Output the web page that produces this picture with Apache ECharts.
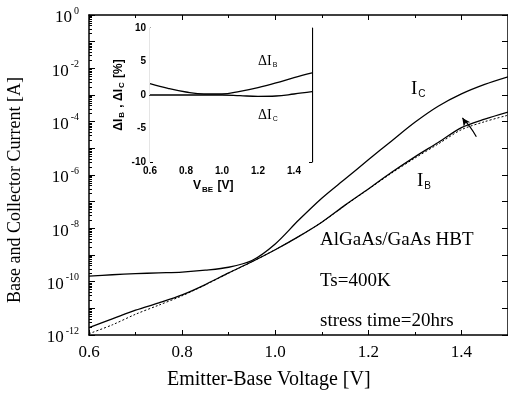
<!DOCTYPE html>
<html>
<head>
<meta charset="utf-8">
<script src="https://cdn.jsdelivr.net/npm/echarts@6/dist/echarts.min.js"></script>
<style>
  html, body { margin: 0; padding: 0; background: #fff; }
  #chart { width: 508px; height: 398px; }
</style>
</head>
<body>
<div id="chart"></div>
<script>
// emitter-base voltage [V]
var vbe = [0.60, 0.65, 0.70, 0.75, 0.80, 0.85, 0.90, 0.95, 1.00, 1.05,
           1.10, 1.15, 1.20, 1.25, 1.30, 1.35, 1.40, 1.45, 1.50];
// collector current [A]
var ic = [1.62e-10, 1.82e-10, 2.0e-10, 2.14e-10, 2.29e-10, 2.69e-10, 3.47e-10, 6.2e-10, 2.6e-9, 2.0e-8,
          1.35e-7, 7.1e-7, 3.7e-6, 1.9e-5, 9.5e-5, 3.8e-4, 1.1e-3, 2.5e-3, 4.8e-3];
// base current before stress [A]
var ib = [1.9e-12, 4.0e-12, 8.5e-12, 1.6e-11, 3.2e-11, 7.8e-11, 2.14e-10, 5.6e-10, 1.58e-9, 4.9e-9,
          1.7e-8, 7.4e-8, 3.0e-7, 1.26e-6, 4.8e-6, 1.66e-5, 6.0e-5, 1.25e-4, 2.3e-4];
// base current after stress (dotted) [A]
var ibStress = [1.12e-12, 2.4e-12, 6.0e-12, 1.32e-11, 2.95e-11, 7.6e-11, 2.1e-10, 5.6e-10, 1.58e-9, 4.9e-9,
                1.7e-8, 7.2e-8, 2.9e-7, 1.17e-6, 4.3e-6, 1.45e-5, 5.0e-5, 1.0e-4, 1.75e-4];
// arrow across the I_B curves
var arrowV = [1.432, 1.418, 1.402];
var arrowI = [2.7e-5, 6.5e-5, 1.38e-4];

// inset: relative change [%]
var insetV = [0.6, 0.7, 0.8, 0.9, 1.0, 1.1, 1.2, 1.3, 1.4, 1.5];
var dIb = [1.7, 1.0, 0.45, 0.15, 0.15, 0.55, 1.1, 1.8, 2.6, 3.3];
var dIc = [0.0, 0.0, 0.0, 0.0, 0.0, -0.1, -0.2, -0.15, 0.15, 0.5];

function pairs(xs, ys) {
  var out = [];
  for (var i = 0; i < xs.length; i++) out.push([xs[i], ys[i]]);
  return out;
}

var serif = 'Liberation Serif';
var sans = 'Liberation Sans';
var black = '#000';

var arrowData = pairs(arrowV, arrowI).map(function (p, i) {
  if (i === arrowV.length - 1) {
    return { value: p, symbol: 'arrow', symbolSize: [6, 8], symbolRotate: 35 };
  }
  return { value: p, symbol: 'none' };
});

var subRich = function (size, sub, bold) {
  return {
    m: { fontFamily: bold ? sans : serif, fontWeight: bold ? 'bold' : 'normal', fontSize: size, fill: black },
    s: { fontFamily: sans, fontWeight: bold ? 'bold' : 'normal', fontSize: sub, fill: black, padding: [Math.round(size * 0.55), 1, 0, 1] }
  };
};

var option = {
  backgroundColor: '#fff',
  animation: false,
  grid: [
    { left: 89, top: 15, width: 423, height: 320 },
    { left: 150, top: 28, width: 162, height: 134, show: true, backgroundColor: '#fff', borderWidth: 0, z: 5 }
  ],
  xAxis: [
    {
      gridIndex: 0, type: 'value', position: 'bottom', min: 0.6, max: 1.5, interval: 0.2,
      axisLine: { lineStyle: { color: black, width: 1.5 } },
      axisTick: { inside: true, length: 5, lineStyle: { color: black } },
      minorTick: { show: true, splitNumber: 2, length: 3, lineStyle: { color: black } },
      splitLine: { show: false },
      axisLabel: {
        color: black, fontFamily: serif, fontSize: 17, margin: 9, showMaxLabel: false,
        formatter: function (v) { return v.toFixed(1); }
      }
    },
    {
      gridIndex: 0, type: 'value', position: 'top', min: 0.6, max: 1.5, interval: 0.2,
      axisLine: { lineStyle: { color: black, width: 1.5 } },
      axisTick: { inside: true, length: 5, lineStyle: { color: black } },
      minorTick: { show: true, splitNumber: 2, length: 3, lineStyle: { color: black } },
      splitLine: { show: false },
      axisLabel: { show: false }
    },
    {
      gridIndex: 1, type: 'value', position: 'bottom', min: 0.6, max: 1.5, interval: 0.2,
      axisLine: { lineStyle: { color: black, width: 1.2 } },
      axisTick: { inside: true, length: 3, lineStyle: { color: black } },
      minorTick: { show: true, splitNumber: 2, length: 2, lineStyle: { color: black } },
      splitLine: { show: false },
      axisLabel: {
        color: black, fontFamily: sans, fontWeight: 'bold', fontSize: 10, margin: 4, showMaxLabel: false,
        formatter: function (v) { return v.toFixed(1); }
      }
    },
    {
      gridIndex: 1, type: 'value', position: 'top', min: 0.6, max: 1.5, interval: 0.2,
      axisLine: { lineStyle: { color: black, width: 1.2 } },
      axisTick: { inside: true, length: 3, lineStyle: { color: black } },
      minorTick: { show: true, splitNumber: 2, length: 2, lineStyle: { color: black } },
      splitLine: { show: false },
      axisLabel: { show: false }
    }
  ],
  yAxis: [
    {
      gridIndex: 0, type: 'log', logBase: 10, position: 'left', min: 1e-12, max: 1, interval: 1, splitNumber: 12,
      axisLine: { lineStyle: { color: black, width: 1.5 } },
      axisTick: { inside: true, length: 6, lineStyle: { color: black } },
      minorTick: { show: true, splitNumber: 9, length: 3, lineStyle: { color: black } },
      splitLine: { show: false },
      axisLabel: {
        margin: 10,
        formatter: function (v) {
          var e = Math.round(Math.log(v) / Math.LN10);
          if (e % 2 !== 0) return '';
          return '{b|10}{s|' + e + '}';
        },
        rich: {
          b: { fontFamily: serif, fontSize: 17, color: black, padding: [6, 2, 0, 0] },
          s: { fontFamily: serif, fontSize: 10, color: black, padding: [0, 0, 8, 0] }
        }
      }
    },
    {
      gridIndex: 0, type: 'log', logBase: 10, position: 'right', min: 1e-12, max: 1, interval: 1, splitNumber: 12,
      axisLine: { lineStyle: { color: black, width: 1.5 } },
      axisTick: { inside: true, length: 6, lineStyle: { color: black } },
      splitLine: { show: false },
      axisLabel: { show: false }
    },
    {
      gridIndex: 1, type: 'value', position: 'left', min: -10, max: 10, interval: 5,
      axisLine: { lineStyle: { color: black, width: 1.2 } },
      axisTick: { inside: true, length: 3, lineStyle: { color: black } },
      minorTick: { show: true, splitNumber: 5, length: 2, lineStyle: { color: black } },
      splitLine: { show: false },
      axisLabel: { color: black, fontFamily: sans, fontWeight: 'bold', fontSize: 10, margin: 4 },
      name: '{v|ΔI}{s|B}{v| , ΔI}{s|C}{v| [%]}', nameLocation: 'middle', nameGap: 24,
      nameTextStyle: {
        rich: {
          v: { fontFamily: sans, fontWeight: 'bold', fontSize: 12, color: black },
          s: { fontFamily: sans, fontWeight: 'bold', fontSize: 8, color: black, padding: [6, 1, 0, 1] }
        }
      }
    },
    {
      gridIndex: 1, type: 'value', position: 'right', min: -10, max: 10, interval: 5,
      axisLine: { lineStyle: { color: black, width: 1.2 } },
      axisTick: { inside: true, length: 3, lineStyle: { color: black } },
      splitLine: { show: false },
      axisLabel: { show: false }
    }
  ],
  graphic: [
    {
      type: 'text', x: 15, y: 190, rotation: Math.PI / 2, z: 20,
      style: {
        text: 'Base and Collector Current [A]', fontFamily: serif, fontSize: 18, fill: black,
        align: 'center', verticalAlign: 'middle'
      }
    },
    {
      type: 'text', left: 167, top: 370, z: 20,
      style: { text: 'Emitter-Base Voltage [V]', fontFamily: serif, fontSize: 20, fill: black }
    },
    {
      type: 'text', left: 193, top: 180, z: 20,
      style: { text: '{m|V}{s|BE}{m| [V]}', rich: subRich(12, 8, true) }
    },
    {
      type: 'text', left: 320, top: 231, z: 20,
      style: { text: 'AlGaAs/GaAs HBT', fontFamily: serif, fontSize: 19, fill: black }
    },
    {
      type: 'text', left: 320, top: 272, z: 20,
      style: { text: 'Ts=400K', fontFamily: serif, fontSize: 19, fill: black }
    },
    {
      type: 'text', left: 320, top: 312, z: 20,
      style: { text: 'stress time=20hrs', fontFamily: serif, fontSize: 19, fill: black }
    },
    {
      type: 'text', left: 411, top: 80, z: 20,
      style: { text: '{m|I}{s|C}', rich: subRich(19, 10, false) }
    },
    {
      type: 'text', left: 417, top: 172, z: 20,
      style: { text: '{m|I}{s|B}', rich: subRich(19, 10, false) }
    },
    {
      type: 'text', left: 258, top: 54, z: 20,
      style: { text: '{m|ΔI}{s|B}', rich: subRich(14, 7, false) }
    },
    {
      type: 'text', left: 258, top: 108, z: 20,
      style: { text: '{m|ΔI}{s|C}', rich: subRich(14, 7, false) }
    }
  ],
  series: [
    {
      name: 'Ic', type: 'line', xAxisIndex: 0, yAxisIndex: 0, data: pairs(vbe, ic),
      smooth: 0.3, showSymbol: false, lineStyle: { color: black, width: 1.3 }, z: 2
    },
    {
      name: 'Ib', type: 'line', xAxisIndex: 0, yAxisIndex: 0, data: pairs(vbe, ib),
      smooth: 0.3, showSymbol: false, lineStyle: { color: black, width: 1.3 }, z: 2
    },
    {
      name: 'Ib stressed', type: 'line', xAxisIndex: 0, yAxisIndex: 0, data: pairs(vbe, ibStress),
      smooth: 0.3, showSymbol: false, lineStyle: { color: black, width: 1, type: [2, 2] }, z: 2
    },
    {
      name: 'arrow', type: 'line', xAxisIndex: 0, yAxisIndex: 0, data: arrowData,
      smooth: 0.5, itemStyle: { color: black }, lineStyle: { color: black, width: 1.2 }, z: 3
    },
    {
      name: 'dIb', type: 'line', xAxisIndex: 2, yAxisIndex: 2, data: pairs(insetV, dIb),
      smooth: 0.4, showSymbol: false, lineStyle: { color: black, width: 1.3 }, z: 10
    },
    {
      name: 'dIc', type: 'line', xAxisIndex: 2, yAxisIndex: 2, data: pairs(insetV, dIc),
      smooth: 0.4, showSymbol: false, lineStyle: { color: black, width: 1.3 }, z: 10
    }
  ]
};

var chart = echarts.init(document.getElementById('chart'), null, { renderer: 'canvas' });
chart.setOption(option);
</script>
</body>
</html>
